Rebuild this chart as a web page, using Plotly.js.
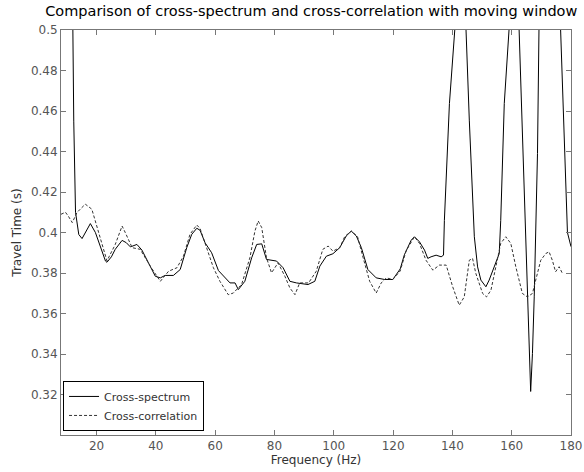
<!DOCTYPE html>
<html>
<head>
<meta charset="utf-8">
<script src="https://cdn.plot.ly/plotly-3.0.1.min.js"></script>
<style>html,body{margin:0;padding:0;background:#fff;}#chart{width:584px;height:472px;}</style>
</head>
<body>
<div id="chart"></div>
<script>
// Cross-spectrum (solid)
var specFreq = [8, 11.5, 12.0, 12.3, 12.9, 14.0, 15.1, 16.5, 17.9, 19.6, 21.5, 23.0, 23.5, 25.0, 26.3, 28.6, 30.0, 31.4, 33.6, 35.3, 37.5, 39.8, 41.5, 43.1, 45.9, 48.2, 50.4, 52.1, 53.8, 54.9, 56.6, 58.8, 61.1, 63.3, 65.0, 66.7, 67.8, 70.0, 72.3, 74.0, 75.7, 77.3, 80.7, 82.9, 85.2, 87.4, 91.3, 93.6, 95.3, 97.5, 99.7, 102.0, 104.2, 105.9, 107.6, 109.3, 111.5, 114.3, 117.1, 119.9, 122.4, 123.8, 126.1, 127.2, 128.9, 130.6, 131.7, 132.8, 134.5, 136.2, 137.0, 137.3, 139.0, 140.8, 142.7, 144.6, 145.7, 147.4, 148.5, 149.6, 151.3, 152.4, 154.1, 155.8, 156.3, 157.5, 159.1, 160.8, 162.5, 164.2, 165.3, 166.1, 166.4, 167.0, 167.6, 168.7, 169.2, 172.8, 176.5, 178.8, 180.0];
var specVal = [0.80, 0.56, 0.50, 0.455, 0.41, 0.399, 0.397, 0.401, 0.4044, 0.400, 0.392, 0.3859, 0.3853, 0.388, 0.3917, 0.3961, 0.395, 0.3929, 0.3941, 0.3913, 0.385, 0.3784, 0.3776, 0.3788, 0.3788, 0.3817, 0.3925, 0.3991, 0.4021, 0.4011, 0.3949, 0.390, 0.3812, 0.3776, 0.3751, 0.3751, 0.3718, 0.3759, 0.3875, 0.3941, 0.3944, 0.3867, 0.3859, 0.3826, 0.3759, 0.3751, 0.3743, 0.3759, 0.3834, 0.3883, 0.3895, 0.3925, 0.3983, 0.4007, 0.3983, 0.3925, 0.3817, 0.3776, 0.3768, 0.3768, 0.382, 0.389, 0.3962, 0.3979, 0.3954, 0.3913, 0.3872, 0.388, 0.3888, 0.388, 0.3888, 0.406, 0.4637, 0.50, 0.60, 0.50, 0.4555, 0.3979, 0.383, 0.3765, 0.3732, 0.3765, 0.383, 0.3896, 0.406, 0.4637, 0.50, 0.60, 0.50, 0.4226, 0.3682, 0.332, 0.3215, 0.3402, 0.3682, 0.439, 0.50, 0.62, 0.50, 0.40, 0.393];

// Cross-correlation (dashed)
var corrFreq = [8.0, 9.5, 10.5, 11.8, 13.4, 16.2, 18.4, 20.6, 23.5, 26.3, 28.6, 29.7, 32.0, 34.7, 38.1, 41.5, 44.3, 47.1, 49.3, 51.5, 53.8, 54.9, 57.2, 59.4, 61.6, 64.4, 66.1, 68.9, 71.7, 73.4, 74.5, 75.7, 77.3, 79.0, 81.2, 83.5, 85.2, 86.9, 88.5, 91.5, 94.1, 96.3, 98.1, 99.7, 102.0, 103.7, 105.9, 108.0, 109.9, 112.1, 114.3, 116.0, 117.7, 119.9, 122.4, 124.4, 127.2, 128.9, 131.1, 133.4, 135.6, 137.9, 140.1, 142.3, 144.0, 145.7, 146.8, 147.9, 150.2, 151.5, 153.0, 154.7, 156.3, 158.0, 159.7, 161.4, 163.6, 165.3, 167.0, 168.1, 169.8, 171.5, 172.6, 173.7, 174.8, 176.0, 177.1];
var corrVal = [0.409, 0.410, 0.408, 0.4049, 0.4099, 0.414, 0.4115, 0.4007, 0.386, 0.3941, 0.4032, 0.3999, 0.3925, 0.3917, 0.3834, 0.3759, 0.3809, 0.3826, 0.3883, 0.3991, 0.4037, 0.402, 0.3925, 0.3826, 0.3759, 0.3693, 0.3701, 0.3743, 0.3875, 0.4007, 0.4057, 0.4024, 0.3875, 0.3801, 0.385, 0.3784, 0.3726, 0.3693, 0.3751, 0.3751, 0.3809, 0.3917, 0.3933, 0.3908, 0.3925, 0.398, 0.4007, 0.398, 0.3875, 0.3759, 0.3701, 0.3751, 0.3776, 0.3768, 0.381, 0.391, 0.3979, 0.3946, 0.3863, 0.3814, 0.3839, 0.3839, 0.3732, 0.3641, 0.3682, 0.3863, 0.3872, 0.3798, 0.3699, 0.3682, 0.3715, 0.383, 0.3946, 0.3979, 0.3946, 0.383, 0.3699, 0.3682, 0.3699, 0.3765, 0.3863, 0.3896, 0.3905, 0.3863, 0.3806, 0.3831, 0.3798];

var xTickVals = [20, 40, 60, 80, 100, 120, 140, 160, 180];
var yTickVals = [0.32, 0.34, 0.36, 0.38, 0.40, 0.42, 0.44, 0.46, 0.48, 0.50];
var yTickText = ['0.32', '0.34', '0.36', '0.38', '0.4', '0.42', '0.44', '0.46', '0.48', '0.5'];
var seriesNames = ['Cross-spectrum', 'Cross-correlation'];

var FONT = 'DejaVu Sans, Verdana, sans-serif';

var traces = [
  {x: specFreq, y: specVal, name: seriesNames[0], type: 'scatter', mode: 'lines',
   line: {color: '#000000', width: 1}},
  {x: corrFreq, y: corrVal, name: seriesNames[1], type: 'scatter', mode: 'lines',
   line: {color: '#333333', width: 1, dash: '3px,2px'}}
];

var axisCommon = {
  showline: true, linecolor: '#777777', linewidth: 1, mirror: 'ticks',
  ticks: 'inside', ticklen: 5, tickcolor: '#777777', tickwidth: 1,
  showgrid: false, zeroline: false,
  tickfont: {family: FONT, size: 12, color: '#555555'}
};

var layout = {
  width: 584, height: 472,
  margin: {l: 60.5, r: 12.5, t: 30, b: 37},
  paper_bgcolor: '#ffffff', plot_bgcolor: '#ffffff',
  font: {family: FONT, color: '#000000'},
  title: {text: 'Comparison of cross-spectrum and cross-correlation with moving window',
          font: {size: 14.5, color: '#000000', family: FONT},
          x: 0.533, xanchor: 'center', y: 0.977, yanchor: 'middle'},
  xaxis: Object.assign({}, axisCommon, {
    range: [8, 180], tickmode: 'array', tickvals: xTickVals,
    title: {text: 'Frequency (Hz)', standoff: 2, font: {size: 12, color: '#333333'}}
  }),
  yaxis: Object.assign({}, axisCommon, {
    range: [0.3, 0.5], tickmode: 'array', tickvals: yTickVals, ticktext: yTickText,
    title: {text: 'Travel Time (s)', standoff: 6, font: {size: 12, color: '#333333'}}
  }),
  showlegend: true,
  legend: {x: 0.004, y: 0.01, xanchor: 'left', yanchor: 'bottom',
           bgcolor: '#ffffff', bordercolor: '#000000', borderwidth: 1,
           font: {size: 11, color: '#333333', family: FONT}, tracegroupgap: 0, itemwidth: 30}
};

Plotly.newPlot('chart', traces, layout, {displayModeBar: false, staticPlot: true});
</script>
</body>
</html>
